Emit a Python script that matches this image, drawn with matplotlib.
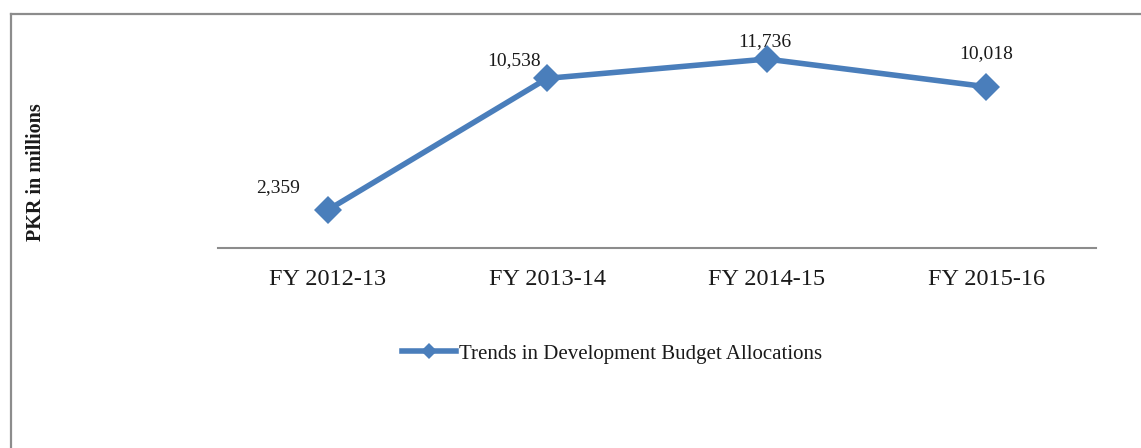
import matplotlib
matplotlib.use("Agg")
import matplotlib.pyplot as plt
from matplotlib.lines import Line2D

categories = ["FY 2012-13", "FY 2013-14", "FY 2014-15", "FY 2015-16"]
values = [2359, 10538, 11736, 10018]
series_name = "Trends in Development Budget Allocations"
y_label = "PKR in millions"

# label offsets in pixels (dx, dy)
label_offsets = [(-50, 22), (-33, 18), (-2, 17), (0, 33)]

plt.rcParams['font.family'] = ['Liberation Serif', 'DejaVu Serif']

W, H = 1141, 448
fig = plt.figure(figsize=(W / 100, H / 100), dpi=100)
fig.patch.set_facecolor('white')

ax_left, ax_right = 218 / W, 1096 / W
ax_bottom, ax_top = (H - 248) / H, (H - 22.6) / H
ax = fig.add_axes([ax_left, ax_bottom, ax_right - ax_left, ax_top - ax_bottom])

color = '#4A7EBB'
x = list(range(len(categories)))
line, = ax.plot(x, values, color=color, lw=4.0, marker='D', markersize=14,
                markeredgewidth=0, solid_joinstyle='miter', label=series_name)

for xi, v, (dx, dy) in zip(x, values, label_offsets):
    ax.annotate(f"{v:,}", (xi, v), xytext=(dx, dy), textcoords='offset pixels',
                ha='center', va='center', fontsize=14, color='#1a1a1a')

ax.set_xlim(-0.5, len(categories) - 0.5)
ax.set_ylim(0, 14000)
ax.set_xticks(x)
ax.set_xticklabels(categories, fontsize=17.5, color='#1a1a1a')
ax.tick_params(axis='x', length=0, pad=15)
ax.set_yticks([])
for s in ['top', 'right', 'left']:
    ax.spines[s].set_visible(False)
ax.spines['bottom'].set_color('#8c8c8c')
ax.spines['bottom'].set_linewidth(1.5)

fig.text(36 / W, (H - 172) / H, y_label, rotation=90, ha='center', va='center',
         fontsize=14.5, fontweight='bold', color='#1a1a1a')

handle = Line2D([], [], color=color, lw=4.0, marker='D', markersize=8, markeredgewidth=0)
fig.legend([handle], [series_name], loc='center', bbox_to_anchor=(612 / W, (H - 354) / H),
           frameon=False, fontsize=15, handlelength=2.6, handletextpad=0.1,
           labelcolor='#1a1a1a')

# outer chart border (left and top visible)
fig.add_artist(Line2D([10.5 / W, 10.5 / W], [0, (H - 14) / H], transform=fig.transFigure,
                      color='#8c8c8c', lw=1.6))
fig.add_artist(Line2D([10.5 / W, 1], [(H - 14) / H, (H - 14) / H], transform=fig.transFigure,
                      color='#8c8c8c', lw=1.6))

fig.savefig('out.png', dpi=100, facecolor='white')
